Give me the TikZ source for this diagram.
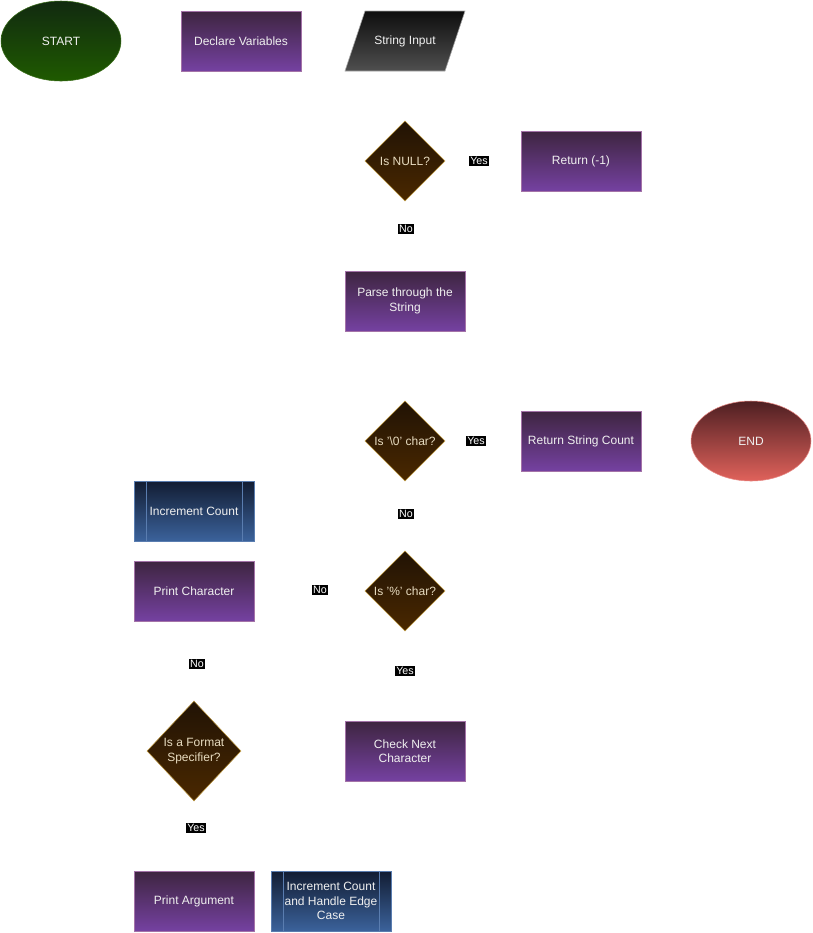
\documentclass[tikz,border=0pt]{standalone}
\usepackage{fontspec}
\setmainfont{Liberation Sans}
\usetikzlibrary{shapes.geometric}
\definecolor{purpletop}{HTML}{3E2540}
\definecolor{purplebot}{HTML}{7541A1}
\definecolor{purpleline}{HTML}{A473A8}
\definecolor{greentop}{HTML}{112A10}
\definecolor{greenbot}{HTML}{1F5A00}
\definecolor{greenline}{HTML}{3B6E1A}
\definecolor{redtop}{HTML}{4E1F22}
\definecolor{redbot}{HTML}{E0625B}
\definecolor{redline}{HTML}{E88A86}
\definecolor{browntop}{HTML}{211305}
\definecolor{brownbot}{HTML}{4A2800}
\definecolor{brownline}{HTML}{B8923A}
\definecolor{bluetop}{HTML}{121D33}
\definecolor{bluebot}{HTML}{3B629B}
\definecolor{blueline}{HTML}{5A7DB0}
\definecolor{greytop}{HTML}{0E0E0E}
\definecolor{greybot}{HTML}{4F4F4F}
\definecolor{boxtext}{HTML}{F0F0F0}
\definecolor{difftext}{HTML}{E8DCC0}
\tikzset{
  txt/.style={text=boxtext, font=\fontsize{9}{10.8}\selectfont, align=center},
  box/.style={rectangle, draw=purpleline, top color=purpletop, bottom color=purplebot,
    minimum width=90pt, minimum height=45pt, inner sep=2pt, txt},
  terminal/.style={ellipse, draw=#1line, top color=#1top, bottom color=#1bot,
    minimum width=90pt, minimum height=60pt, inner sep=0pt, txt},
  io/.style={rectangle, minimum width=90pt, minimum height=45pt, inner sep=0pt, txt},
  process/.style={rectangle, draw=blueline, top color=bluetop, bottom color=bluebot,
    minimum width=90pt, minimum height=45pt, inner sep=2pt, txt,
    path picture={
      \draw[blueline] ([xshift=9pt]path picture bounding box.north west) -- ([xshift=9pt]path picture bounding box.south west);
      \draw[blueline] ([xshift=-9pt]path picture bounding box.north east) -- ([xshift=-9pt]path picture bounding box.south east);}},
  dtext/.style={txt, text=difftext, inner sep=0pt},
  decision/.style={diamond, draw=brownline, top color=browntop, bottom color=brownbot,
    minimum width=60pt, minimum height=60pt, inner sep=0pt, label={[dtext]center:#1}},
  tag/.style={fill=black, text=white, inner sep=1pt, font=\fontsize{8}{9}\selectfont}
}
\begin{document}
\begin{tikzpicture}[x=0.75pt, y=-0.75pt]
    \useasboundingbox (0,0) rectangle (813,933);

    \node[terminal=green] (start) at (61,41) {START};
    \node[box] (declare) at (241,41) {Declare Variables};
    \shade[draw=gray!70, top color=greytop, bottom color=greybot]
      (345,71) -- (365,11) -- (465,11) -- (445,71) -- cycle;
    \node[io] (input) at (405,41) {String Input};

    \node[decision={Is NULL?}] (isnull) at (405,161) {};
    \node[box] (retneg) at (581,161) {Return (-1)};
    \node[box] (parse) at (405,301) {Parse through the\\String};

    \node[decision={Is '\textbackslash 0' char?}] (iszero) at (405,441) {};
    \node[box] (retcount) at (581,441) {Return String Count};
    \node[terminal=red] (end) at (751,441) {END};

    \node[process] (inc) at (194,511) {Increment Count};
    \node[box] (printchar) at (194,591) {Print Character};
    \node[decision={Is '\%' char?}] (ispct) at (405,591) {};

    \node[decision={Is a Format\\Specifier?}, minimum width=70.5pt, minimum height=75pt] (isfmt) at (194,751) {};
    \node[box] (next) at (405,751) {Check Next\\Character};

    \node[box] (printarg) at (194,901) {Print Argument};
    \node[process] (incedge) at (331,901) {Increment Count\\and Handle Edge\\Case};

    \node[tag] (yes1) at (479,161) {Yes}; \node[tag] (no1) at (406,229) {No};
    \node[tag] (yes2) at (476,441) {Yes}; \node[tag] (no2) at (406,514) {No};
    \node[tag] (no3) at (320,590) {No}; \node[tag] (yes3) at (405,671) {Yes};
    \node[tag] (no4) at (197,664) {No}; \node[tag] (yes4) at (196,828) {Yes};
\end{tikzpicture}
\end{document}
